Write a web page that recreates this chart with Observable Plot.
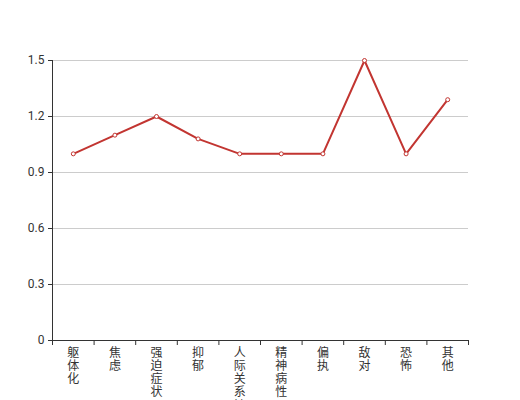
<!DOCTYPE html>
<html><head><meta charset="utf-8">
<script src="https://cdn.jsdelivr.net/npm/d3@7"></script>
<script src="https://cdn.jsdelivr.net/npm/@observablehq/plot@0.6"></script>
<style>body{margin:0;background:#fff}</style>
</head><body><div id="chart"></div>
<script>
const categories = ["躯体化","焦虑","强迫症状","抑郁","人际关系敏感","精神病性","偏执","敌对","恐怖","其他"];
const values = [1.0, 1.1, 1.2, 1.08, 1.0, 1.0, 1.0, 1.5, 1.0, 1.29];
const yTicks = [0, 0.3, 0.6, 0.9, 1.2, 1.5];

const data = categories.map((c, i) => ({pos: i + 0.5, c, v: values[i]}));
const boundaries = d3.range(0, categories.length + 1);
const red = "#c23531";

const chart = Plot.plot({
  width: 520, height: 400,
  marginLeft: 52, marginRight: 52, marginTop: 60, marginBottom: 60,
  style: {fontFamily: 'Roboto, "Noto Sans CJK SC", sans-serif', fontSize: "12px", color: "#333", background: "#fff"},
  x: {type: "linear", domain: [0, categories.length], axis: null},
  y: {domain: [0, 1.5], axis: null},
  marks: [
    Plot.gridY(yTicks.filter(t => t > 0), {stroke: "#ccc", strokeOpacity: 1}),
    Plot.axisY({ticks: yTicks, tickSize: 4, tickPadding: 4, tickFormat: d => String(d), stroke: "#333", fill: "#333", label: null}),
    Plot.axisX({ticks: boundaries, tickSize: 5, tickFormat: () => "", stroke: "#333", label: null}),
    Plot.ruleX([0], {stroke: "#333"}),
    Plot.ruleY([0], {stroke: "#333"}),
    Plot.text(data, {x: "pos", text: d => d.c.split("").join("\n"), frameAnchor: "bottom", lineAnchor: "top", dy: 7, lineHeight: 1.1, fill: "#333", fontFamily: '"Noto Sans CJK SC", sans-serif'}),
    Plot.line(data, {x: "pos", y: "v", stroke: red, strokeWidth: 2}),
    Plot.dot(data, {x: "pos", y: "v", r: 2, fill: "#fff", stroke: red, strokeWidth: 1})
  ]
});
document.getElementById("chart").append(chart);
</script>
</body></html>
